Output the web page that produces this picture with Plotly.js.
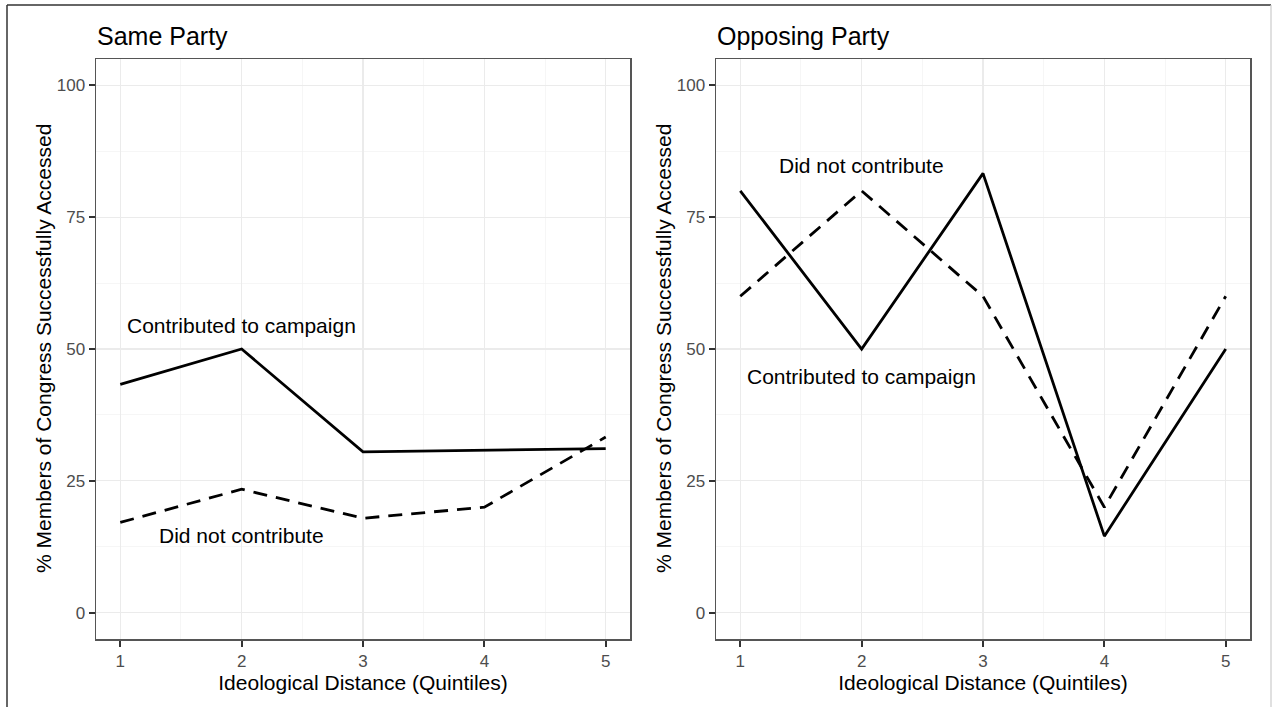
<!DOCTYPE html>
<html>
<head>
<meta charset="utf-8">
<script src="https://cdn.plot.ly/plotly-3.0.1.min.js"></script>
<style>
  html, body { margin: 0; padding: 0; background: #ffffff; }
  #chart { width: 1273px; height: 707px; }
</style>
</head>
<body>
<div id="chart"></div>
<script>
// ---- Data ----
const quintiles = [1, 2, 3, 4, 5];
const panelTitles = ["Same Party", "Opposing Party"];
const seriesNames = ["Contributed to campaign", "Did not contribute"];

const sameContributed = [43.3, 50.0, 30.5, 30.8, 31.1];
const sameNotContributed = [17.1, 23.4, 17.9, 20.0, 33.3];
const oppContributed = [80.0, 50.0, 83.3, 14.5, 50.0];
const oppNotContributed = [60.0, 80.0, 60.0, 20.0, 60.0];

const yTickVals = [0, 25, 50, 75, 100];
const xTitle = "Ideological Distance (Quintiles)";
const yTitle = "% Members of Congress Successfully Accessed";

// label positions (data coords) for in-plot text labels
const sameLabelX = [2, 2];
const sameLabelY = [54.4, 14.7];
const oppLabelX = [2, 2];
const oppLabelY = [44.8, 84.8];

// ---- Styling ----
const FONT = "Liberation Sans, Arial, sans-serif";
const solid = { color: "#000000", width: 2.8, dash: "solid" };
const dashed = { color: "#000000", width: 2.8, dash: "14px,9px" };

const traces = [
  { x: quintiles, y: sameContributed, xaxis: "x", yaxis: "y", mode: "lines", line: solid, name: seriesNames[0], showlegend: false, hoverinfo: "x+y" },
  { x: quintiles, y: sameNotContributed, xaxis: "x", yaxis: "y", mode: "lines", line: dashed, name: seriesNames[1], showlegend: false, hoverinfo: "x+y" },
  { x: quintiles, y: oppContributed, xaxis: "x2", yaxis: "y2", mode: "lines", line: solid, name: seriesNames[0], showlegend: false, hoverinfo: "x+y" },
  { x: quintiles, y: oppNotContributed, xaxis: "x2", yaxis: "y2", mode: "lines", line: dashed, name: seriesNames[1], showlegend: false, hoverinfo: "x+y" }
];

const W = 1273, H = 707;
const mL = 96, mR = 23, mT = 59, mB = 68;
const pw = W - mL - mR, ph = H - mT - mB;
const d1 = [0, (630 - mL) / pw];
const d2 = [(716 - mL) / pw, 1];

function xAxis(domain, anchor) {
  return {
    domain: domain, anchor: anchor, range: [0.8, 5.2],
    tickvals: quintiles, ticktext: quintiles.map(String),
    ticks: "outside", ticklen: 6, tickwidth: 2, tickcolor: "#333333",
    tickfont: { family: FONT, size: 17, color: "#4d4d4d" },
    showgrid: true, gridcolor: "#ebebeb", gridwidth: 1.3,
    minor: { dtick: 0.5, tick0: 0.5, showgrid: true, gridcolor: "#f2f2f2", gridwidth: 0.7 },
    showline: true, linecolor: "#555555", linewidth: 1.5, mirror: true,
    zeroline: false, fixedrange: true,
    title: { text: xTitle, font: { family: FONT, size: 21, color: "#000000" }, standoff: 4 }
  };
}
function yAxis(domain, anchor) {
  return {
    domain: domain, anchor: anchor, range: [-5, 105],
    tickvals: yTickVals, ticktext: yTickVals.map(String),
    ticks: "outside", ticklen: 6, tickwidth: 2, tickcolor: "#333333",
    tickfont: { family: FONT, size: 17, color: "#4d4d4d" },
    showgrid: true, gridcolor: "#ebebeb", gridwidth: 1.3,
    minor: { dtick: 12.5, tick0: 12.5, showgrid: true, gridcolor: "#f2f2f2", gridwidth: 0.7 },
    showline: true, linecolor: "#555555", linewidth: 1.5, mirror: true,
    zeroline: false, fixedrange: true
  };
}

const annotations = [];
// panel titles and y-axis titles
[["x", "y"], ["x2", "y2"]].forEach((ax, i) => {
  annotations.push({
    text: panelTitles[i], xref: ax[0] + " domain", yref: ax[1] + " domain",
    x: 0, y: 1, xanchor: "left", yanchor: "bottom", yshift: 7, xshift: -1,
    showarrow: false, font: { family: FONT, size: 25, color: "#000000" }
  });
  annotations.push({
    text: yTitle, xref: ax[0] + " domain", yref: ax[1] + " domain",
    x: 0, y: 0.5, xanchor: "center", yanchor: "middle", xshift: -53, textangle: -90,
    showarrow: false, font: { family: FONT, size: 21, color: "#000000" }
  });
});
// in-plot series labels
seriesNames.forEach((nm, i) => {
  annotations.push({ text: nm, xref: "x", yref: "y", x: sameLabelX[i], y: sameLabelY[i],
    showarrow: false, xanchor: "center", yanchor: "middle",
    font: { family: FONT, size: 21, color: "#000000" } });
  annotations.push({ text: nm, xref: "x2", yref: "y2", x: oppLabelX[i], y: oppLabelY[i],
    showarrow: false, xanchor: "center", yanchor: "middle",
    font: { family: FONT, size: 21, color: "#000000" } });
});

// outer frame around the whole figure
const fx0 = (7 - mL) / pw, fx1 = (1271 - mL) / pw;
const fyTop = (H - mB - 5) / ph, fyBot = (H - mB - 712) / ph;
const shapes = [
  { type: "line", xref: "paper", yref: "paper", x0: fx0, x1: fx0, y0: fyBot, y1: fyTop, line: { color: "#333333", width: 1.5 } },
  { type: "line", xref: "paper", yref: "paper", x0: fx0, x1: fx1, y0: fyTop, y1: fyTop, line: { color: "#333333", width: 1.5 } },
  { type: "line", xref: "paper", yref: "paper", x0: fx1, x1: fx1, y0: fyBot, y1: fyTop, line: { color: "#cccccc", width: 1.2 } }
];

const layout = {
  width: W, height: H,
  margin: { l: mL, r: mR, t: mT, b: mB, pad: 0 },
  paper_bgcolor: "#ffffff", plot_bgcolor: "#ffffff",
  showlegend: false,
  font: { family: FONT, color: "#000000" },
  xaxis: xAxis(d1, "y"), yaxis: yAxis([0, 1], "x"),
  xaxis2: xAxis(d2, "y2"), yaxis2: yAxis([0, 1], "x2"),
  annotations: annotations, shapes: shapes
};

Plotly.newPlot("chart", traces, layout, { displayModeBar: false, staticPlot: true });
</script>
</body>
</html>
